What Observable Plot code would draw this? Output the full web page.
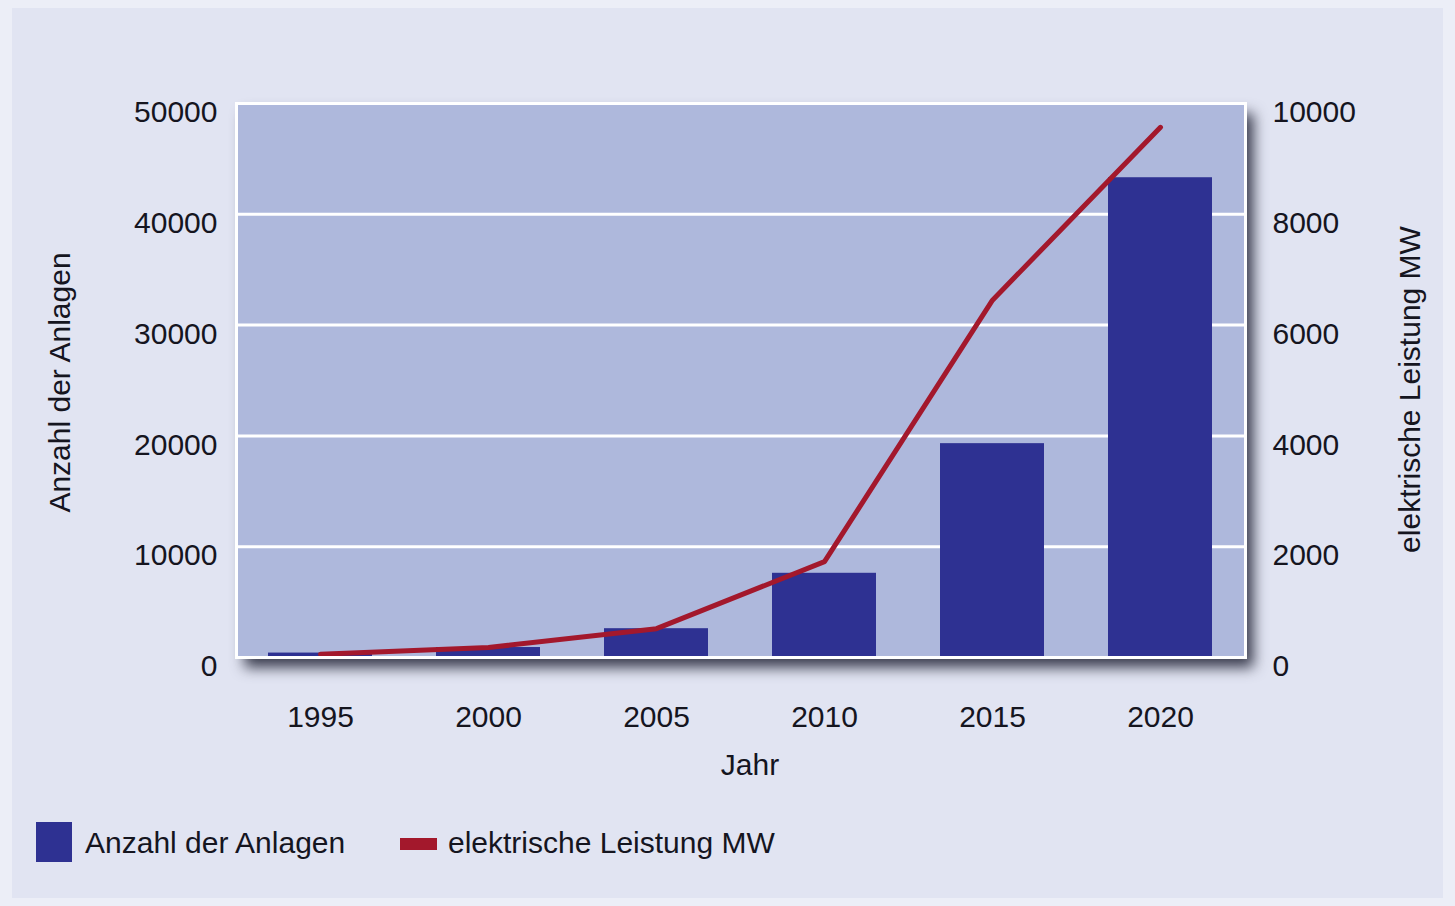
<!DOCTYPE html>
<html>
<head>
<meta charset="utf-8">
<script src="https://cdn.jsdelivr.net/npm/d3@7"></script>
<script src="https://cdn.jsdelivr.net/npm/@observablehq/plot@0.6"></script>
<style>
  html, body { margin: 0; padding: 0; background: #eceef7; }
  #wrap { position: relative; width: 1455px; height: 906px; overflow: hidden; font-family: "Liberation Sans", Arial, sans-serif; }
  #panel { position: absolute; left: 12px; top: 8px; width: 1431px; height: 890px; background: #e1e4f2; }
  #chart { position: absolute; left: 0; top: 0; }
  #legend { position: absolute; left: 0; top: 818px; width: 1455px; height: 50px; font-size: 30px; color: #15151f; }
  .sw { position: absolute; }
  .lt { position: absolute; top: 8px; line-height: 34px; white-space: nowrap; }
</style>
</head>
<body>
<div id="wrap">
  <div id="panel"></div>
  <div id="chart"></div>
  <div id="legend">
    <div class="sw" style="left:36px;top:4px;width:36px;height:40px;background:#2e3192;"></div>
    <div class="lt" style="left:85px;">Anzahl der Anlagen</div>
    <div class="sw" style="left:400px;top:20px;width:37px;height:12px;background:#a3182c;"></div>
    <div class="lt" style="left:448px;">elektrische Leistung MW</div>
  </div>
</div>
<script>
const years = ["1995", "2000", "2005", "2010", "2015", "2020"];
const anlagen = [400, 900, 2600, 7600, 19300, 43300];
const leistungMW = [60, 180, 520, 1730, 6450, 9570];
const leftTicks = [0, 10000, 20000, 30000, 40000, 50000];
const rightTicks = [0, 2000, 4000, 6000, 8000, 10000];
const gridTicks = [10000, 20000, 30000, 40000];
const ratio = 5; // right axis scale factor: 50000 / 10000

const data = years.map((y, i) => ({year: y, count: anlagen[i], mw: leistungMW[i]}));

const chart = Plot.plot({
  width: 1455,
  height: 800,
  marginLeft: 236,
  marginRight: 210,
  marginTop: 103,
  marginBottom: 143,
  style: {background: "transparent", fontFamily: "Liberation Sans, Arial, sans-serif", color: "#15151f", overflow: "visible"},
  x: {type: "band", domain: years, paddingInner: 0.38, paddingOuter: 0.18, align: 0.5},
  y: {domain: [0, 50000]},
  marks: [
    Plot.frame({fill: "#aeb8dc", stroke: "none"}),
    Plot.gridY(gridTicks, {stroke: "white", strokeOpacity: 1, strokeWidth: 3}),
    Plot.barY(data, {x: "year", y: "count", fill: "#2e3192"}),
    Plot.line(data, {x: "year", y: d => d.mw * ratio, stroke: "#a3182c", strokeWidth: 5, strokeLinejoin: "round", strokeLinecap: "round"}),
    Plot.frame({stroke: "white", strokeWidth: 3}),
    Plot.axisX({ticks: years, tickSize: 0, tickPadding: 48, fontSize: 30, label: null}),
    Plot.axisY(leftTicks, {anchor: "left", tickSize: 0, tickPadding: 19, fontSize: 30, dy: 9, label: null, tickFormat: d => String(d)}),
    Plot.axisY(rightTicks.map(v => v * ratio), {anchor: "right", tickSize: 0, tickPadding: 27, fontSize: 30, dy: 9, label: null, tickFormat: d => String(d / ratio)}),
    Plot.text(["Jahr"], {frameAnchor: "bottom", dy: 108, dx: 9, fontSize: 30, lineAnchor: "middle", textAnchor: "middle", fill: "#15151f"}),
    Plot.text(["Anzahl der Anlagen"], {frameAnchor: "left", dx: -176, dy: 2, rotate: -90, fontSize: 30, lineAnchor: "middle", textAnchor: "middle", fill: "#15151f"}),
    Plot.text(["elektrische Leistung MW"], {frameAnchor: "right", dx: 165, dy: 9, rotate: -90, fontSize: 30, lineAnchor: "middle", textAnchor: "middle", fill: "#15151f"})
  ]
});
document.getElementById("chart").appendChild(chart);
const frames = chart.querySelectorAll('[aria-label="frame"]');
if (frames.length) frames[0].style.filter = "drop-shadow(8px 10px 7px rgba(40,42,60,0.9))";
</script>
</body>
</html>
